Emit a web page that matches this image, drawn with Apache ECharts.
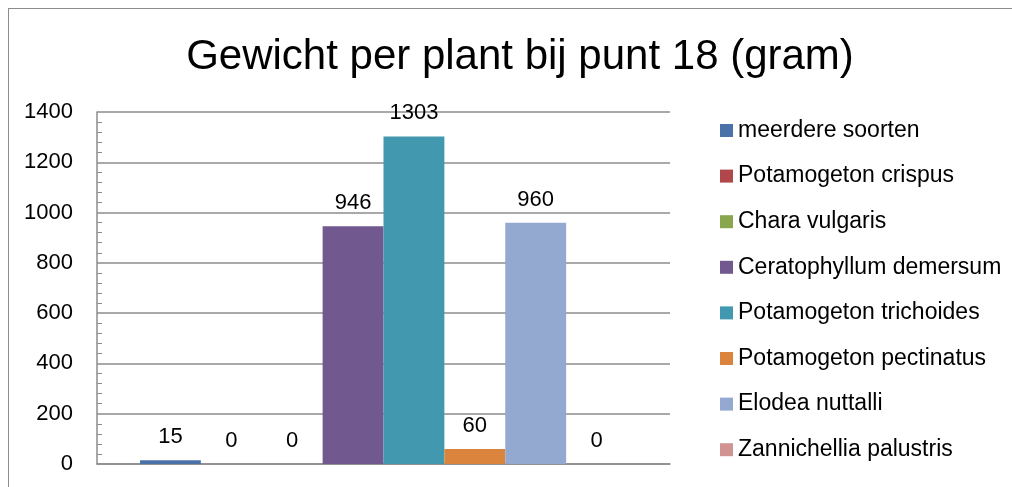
<!DOCTYPE html>
<html>
<head>
<meta charset="utf-8">
<script src="https://cdn.jsdelivr.net/npm/echarts@6/dist/echarts.min.js"></script>
<style>
  html, body { margin: 0; padding: 0; background: #fff; }
  #frame { position: absolute; left: 8px; top: 8px; width: 1100px; height: 600px; border: 1px solid #8c8c8c; }
  #chart { position: absolute; left: 0; top: 0; width: 1012px; height: 487px; }
</style>
</head>
<body>
<div id="frame"></div>
<div id="chart"></div>
<script>
// data
var categories = ['punt 18']
var seriesNames = [
  'meerdere soorten',
  'Potamogeton crispus',
  'Chara vulgaris',
  'Ceratophyllum demersum',
  'Potamogeton trichoides',
  'Potamogeton pectinatus',
  'Elodea nuttalli',
  'Zannichellia palustris'
]
var seriesValues = [15, 0, 0, 946, 1303, 60, 960, 0]
var seriesColors = ['#4a72a8', '#b0474a', '#89a54e', '#71588f', '#4198af', '#db843d', '#93a9cf', '#d19392']

var font = 'Liberation Sans'

var chart = echarts.init(document.getElementById('chart'))

var series = seriesNames.map(function (name, i) {
  return {
    name: name,
    type: 'bar',
    data: [seriesValues[i]],
    itemStyle: { color: seriesColors[i] },
    barGap: '0%',
    barCategoryGap: '15%',
    label: {
      show: true,
      position: 'top',
      distance: 12,
      color: '#000',
      fontSize: 22,
      fontFamily: font
    }
  }
})

chart.setOption({
  animation: false,
  title: {
    text: 'Gewicht per plant bij punt 18 (gram)',
    left: 515,
    top: 31,
    textAlign: 'center',
    textStyle: {
      fontWeight: 'normal',
      color: '#000',
      fontSize: 42,
      fontFamily: font
    }
  },
  legend: {
    orient: 'vertical',
    left: 715,
    top: 114,
    itemWidth: 13,
    itemHeight: 13,
    itemGap: 22.6,
    icon: 'rect',
    textStyle: {
      color: '#000',
      fontSize: 23,
      fontFamily: font,
      lineHeight: 23
    },
    data: seriesNames
  },
  grid: {
    left: 97,
    right: 342,
    top: 112,
    bottom: 23
  },
  xAxis: {
    type: 'category',
    data: categories,
    axisLine: { lineStyle: { color: '#8c8c8c', width: 1.5 } },
    axisTick: { show: false },
    axisLabel: { show: false }
  },
  yAxis: {
    type: 'value',
    min: 0,
    max: 1400,
    interval: 200,
    axisLine: { show: true, lineStyle: { color: '#8c8c8c', width: 1.5 } },
    axisTick: { show: false, inside: true },
    minorTick: { show: true, splitNumber: 5, length: 5, lineStyle: { color: '#8c8c8c' } },
    axisLabel: {
      color: '#000',
      fontSize: 22,
      fontFamily: font,
      margin: 24,
      formatter: function (v) { return String(v) }
    },
    splitLine: { lineStyle: { color: '#8c8c8c', width: 1.5 } }
  },
  series: series
})
</script>
</body>
</html>
